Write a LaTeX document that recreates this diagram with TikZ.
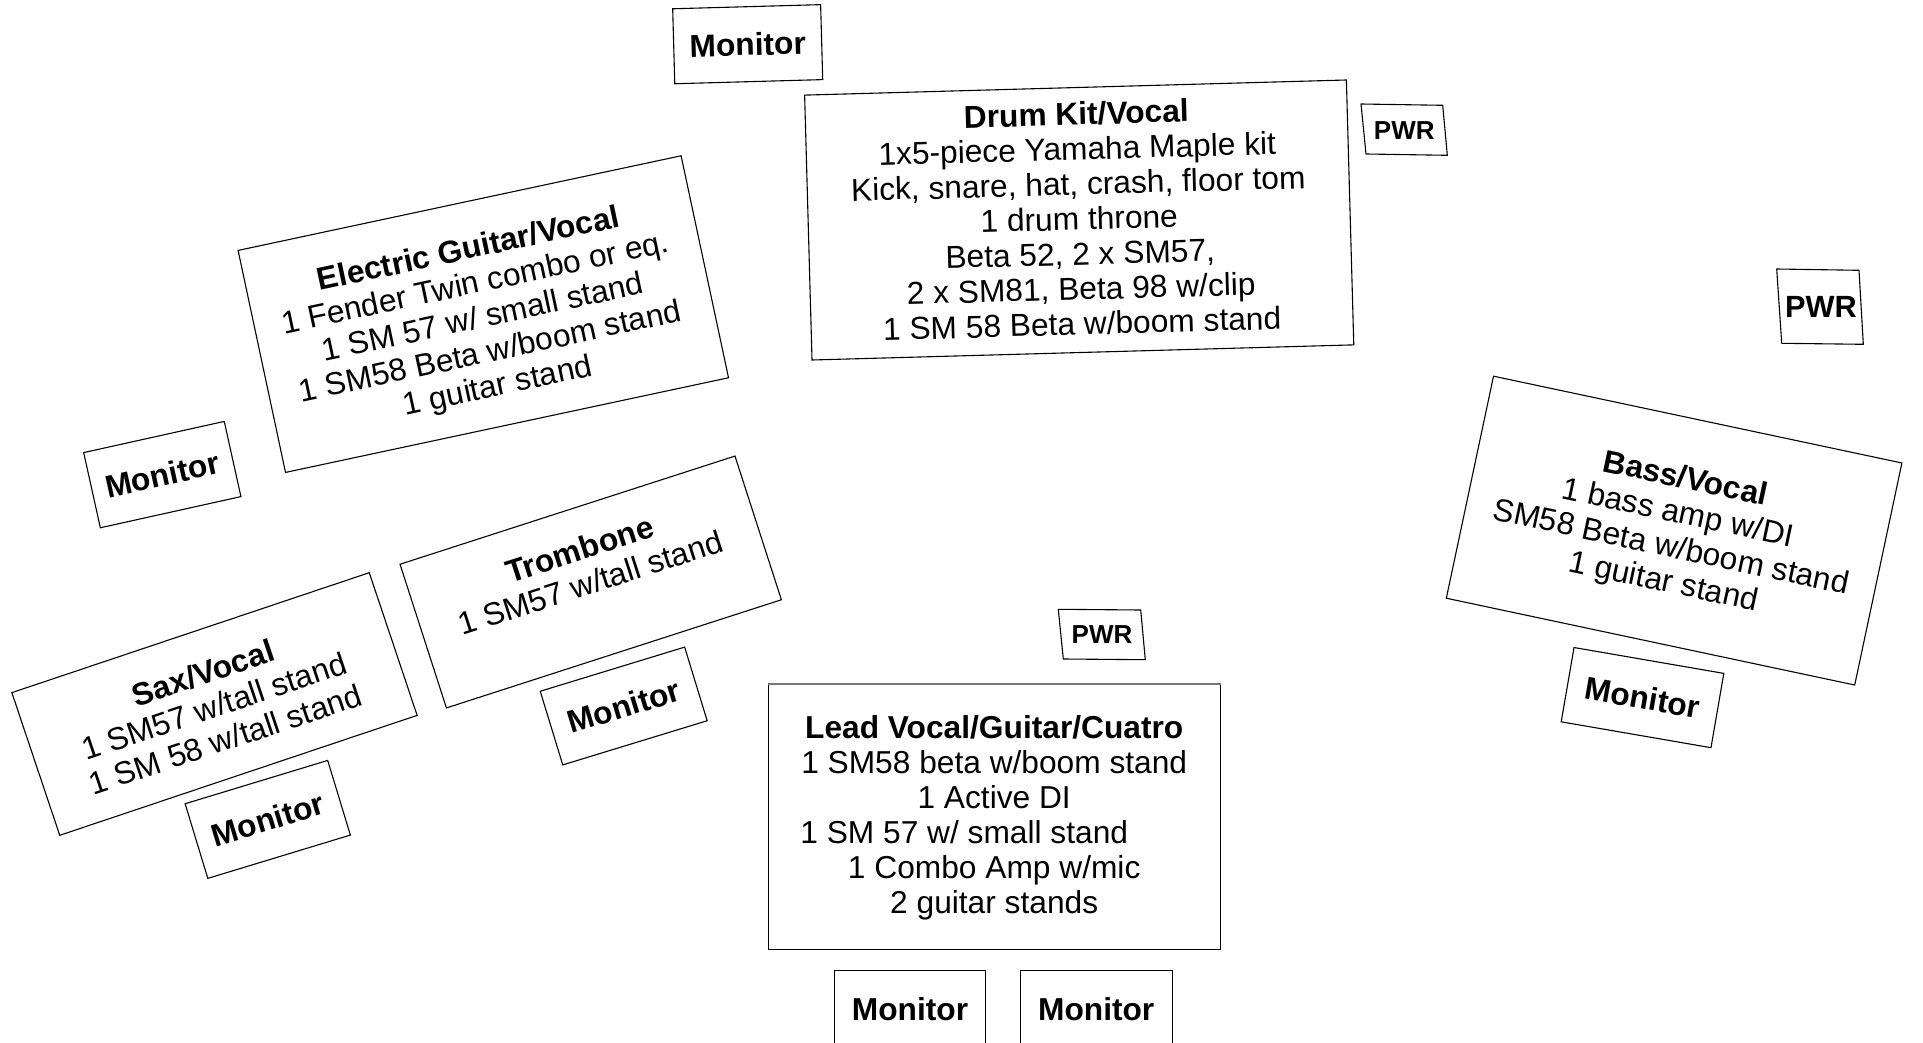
\documentclass[tikz,border=0pt]{standalone}
\usepackage{fontspec}
\setmainfont{Liberation Sans}
\definecolor{topgray}{RGB}{120,120,120}
\begin{document}
\begin{tikzpicture}[x=1pt,y=-1pt,
  box/.style={draw=black, line width=1.1pt, inner sep=0pt},
  txt/.style={align=center, inner sep=0pt, font=\fontsize{31.7}{35}\selectfont},
  mon/.style={draw=black, line width=1.1pt, inner sep=0pt, font=\bfseries\fontsize{31.7}{35}\selectfont},
  pwr/.style={inner sep=0pt, font=\bfseries\fontsize{26}{30}\selectfont},
  edge/.style={draw=black, line width=1.1pt, line join=round}]
\useasboundingbox (0,0) rectangle (1923,1043);
\clip (0,0) rectangle (1923,1043);

% top monitor
\node[mon, rotate=1.6, minimum width=148pt, minimum height=75pt] (monTop) at (747.7,44.2) {Monitor};

% drum kit
\node[box, rotate=1.6, minimum width=542pt, minimum height=265pt] (drum) at (1079.2,220) {};
\node[txt, rotate=1.6] (drumT) at (1079.2,218.5) {\textbf{Drum Kit/Vocal}\\1x5-piece Yamaha Maple kit\\Kick, snare, hat, crash, floor tom\\1 drum throne\\Beta 52, 2 x SM57,\\2 x SM81, Beta 98 w/clip\\1 SM 58 Beta w/boom stand};

% PWR boxes
\node[pwr] (pwr1) at (1404.3,130.7) {PWR};
\draw[edge] (1361,104) -- (1442.7,105.3) -- (1447.3,155.3) -- (1366,154) -- cycle;
\node[pwr, font=\bfseries\fontsize{30.7}{34}\selectfont] (pwr2) at (1821,307.3) {PWR};
\draw[edge] (1776.7,269) -- (1859,270.3) -- (1863.3,344.3) -- (1781.7,343.3) -- cycle;
\node[pwr] (pwr3) at (1102,635) {PWR};
\draw[edge] (1058.3,609.3) -- (1140.7,610) -- (1145.3,659.7) -- (1063.3,659) -- cycle;

% electric guitar
\node[box, rotate=12.06, minimum width=453pt, minimum height=227pt] (egv) at (483.3,314.1) {};
\node[txt, rotate=12.06] (egvT) at (483.3,319.2) {\textbf{Electric Guitar/Vocal}\\1 Fender Twin combo or eq.\\1 SM 57 w/ small stand\\1 SM58 Beta w/boom stand\\1 guitar stand};
\node[mon, rotate=12.5, minimum width=144pt, minimum height=77pt] (monEG) at (162.3,474.6) {Monitor};

% trombone
\node[box, rotate=17.9, minimum width=352pt, minimum height=151pt] (trb) at (590.7,582) {};
\node[txt, rotate=17.9] (trbT) at (584.8,566) {\textbf{Trombone}\\1 SM57 w/tall stand};
\node[mon, rotate=17, minimum width=151pt, minimum height=77pt] (monTrb) at (623.7,706) {Monitor};

% sax
\node[box, rotate=18.55, minimum width=377pt, minimum height=150.5pt] (sax) at (214.5,704) {};
\node[txt, rotate=18.55] (saxT) at (214.3,706) {\textbf{Sax/Vocal}\\1 SM57 w/tall stand\\1 SM 58 w/tall stand};
\node[mon, rotate=16.9, minimum width=149pt, minimum height=78pt] (monSax) at (267.75,819.4) {Monitor};

% bass
\node[box, rotate=-12, minimum width=417.5pt, minimum height=227pt] (bass) at (1674.1,530.6) {};
\node[txt, rotate=-12] (bassT) at (1674.2,531.7) {\textbf{Bass/Vocal}\\1 bass amp w/DI\\SM58 Beta w/boom stand\\1 guitar stand};
\node[mon, rotate=-9.8, minimum width=152pt, minimum height=75.4pt] (monBass) at (1642.5,697.6) {Monitor};

% lead vocal
\node[box, minimum width=452pt, minimum height=265pt] (lead) at (994.2,817) {};
\draw[topgray, line width=2pt] (lead.north west) -- (lead.north east);
\node[txt] (leadT) at (994.2,817.7) {\textbf{Lead Vocal/Guitar/Cuatro}\\1 SM58 beta w/boom stand\\1 Active DI\\1 SM 57 w/ small stand\rule{60pt}{0pt}\\1 Combo Amp w/mic\\2 guitar stands};
\node[mon, minimum width=151pt, minimum height=77pt] (monL1) at (910,1009.2) {Monitor};
\node[mon, minimum width=151.7pt, minimum height=77pt] (monL2) at (1096.2,1009.2) {Monitor};
\end{tikzpicture}
\end{document}
